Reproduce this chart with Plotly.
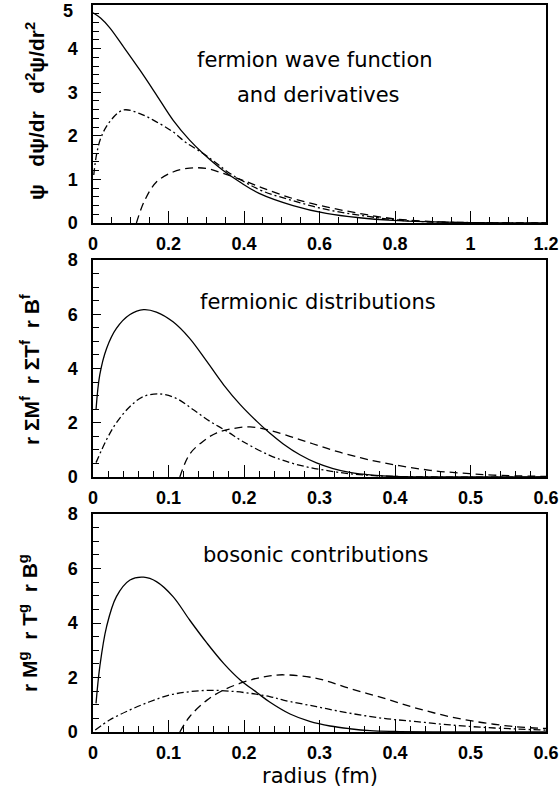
import plotly.graph_objects as go

# ---------------- data ----------------
# Panel 1: fermion wave function and derivatives (x: radius fm)
p1_psi_r = [0.0, 0.02, 0.044, 0.08, 0.124, 0.168, 0.212, 0.256, 0.291, 0.344, 0.389, 0.44, 0.53, 0.618, 0.706, 0.794, 0.88, 1.0, 1.2]
p1_psi_v = [4.82, 4.7, 4.48, 4.05, 3.51, 2.94, 2.36, 1.90, 1.60, 1.21, 0.94, 0.68, 0.40, 0.22, 0.12, 0.06, 0.03, 0.01, 0.0]

p1_d1_r = [0.002, 0.01, 0.022, 0.044, 0.08, 0.124, 0.168, 0.212, 0.247, 0.291, 0.327, 0.362, 0.406, 0.45, 0.53, 0.618, 0.706, 0.794, 0.88, 1.0, 1.2]
p1_d1_v = [1.1, 1.6, 1.98, 2.32, 2.59, 2.51, 2.32, 2.09, 1.84, 1.60, 1.37, 1.14, 0.92, 0.73, 0.51, 0.31, 0.18, 0.08, 0.03, 0.01, 0.0]

p1_d2_r = [0.115, 0.137, 0.168, 0.212, 0.256, 0.3, 0.344, 0.397, 0.45, 0.53, 0.618, 0.706, 0.794, 0.88, 0.97, 1.1, 1.2]
p1_d2_v = [0.0, 0.52, 0.94, 1.17, 1.26, 1.25, 1.14, 0.98, 0.80, 0.56, 0.37, 0.22, 0.10, 0.04, 0.01, 0.0, 0.0]

# Panel 2: fermionic distributions
p2_m_r = [0.004, 0.009, 0.018, 0.031, 0.049, 0.067, 0.084, 0.106, 0.128, 0.151, 0.173, 0.195, 0.217, 0.234, 0.252, 0.274, 0.296, 0.318, 0.34, 0.37, 0.4, 0.45, 0.6]
p2_m_v = [2.48, 3.77, 4.74, 5.48, 5.99, 6.17, 6.08, 5.72, 5.11, 4.25, 3.40, 2.67, 2.05, 1.62, 1.22, 0.82, 0.52, 0.31, 0.17, 0.07, 0.02, 0.0, 0.0]

p2_t_r = [0.004, 0.018, 0.031, 0.049, 0.067, 0.089, 0.111, 0.133, 0.155, 0.177, 0.199, 0.234, 0.261, 0.287, 0.314, 0.34, 0.38, 0.45, 0.6]
p2_t_v = [0.53, 1.38, 2.0, 2.6, 2.97, 3.06, 2.89, 2.48, 2.05, 1.69, 1.3, 0.8, 0.53, 0.35, 0.22, 0.12, 0.04, 0.0, 0.0]

p2_b_r = [0.115, 0.128, 0.146, 0.164, 0.186, 0.208, 0.234, 0.274, 0.314, 0.354, 0.384, 0.42, 0.455, 0.49, 0.53, 0.6]
p2_b_v = [0.0, 0.84, 1.32, 1.63, 1.79, 1.85, 1.72, 1.38, 1.02, 0.71, 0.53, 0.35, 0.22, 0.14, 0.07, 0.02]

# Panel 3: bosonic contributions
p3_m_r = [0.004, 0.009, 0.018, 0.031, 0.049, 0.067, 0.084, 0.106, 0.128, 0.151, 0.173, 0.195, 0.217, 0.234, 0.261, 0.287, 0.314, 0.34, 0.367, 0.4, 0.45, 0.6]
p3_m_v = [1.05, 2.4, 3.87, 4.97, 5.58, 5.68, 5.52, 4.97, 4.11, 3.26, 2.52, 1.91, 1.45, 1.1, 0.66, 0.39, 0.22, 0.12, 0.05, 0.02, 0.0, 0.0]

p3_t_r = [0.003, 0.022, 0.049, 0.075, 0.102, 0.128, 0.155, 0.181, 0.208, 0.234, 0.252, 0.296, 0.34, 0.385, 0.429, 0.473, 0.517, 0.561, 0.6]
p3_t_v = [0.07, 0.44, 0.81, 1.11, 1.36, 1.48, 1.53, 1.50, 1.42, 1.30, 1.17, 0.93, 0.69, 0.50, 0.38, 0.26, 0.17, 0.11, 0.07]

p3_b_r = [0.115, 0.128, 0.151, 0.173, 0.195, 0.217, 0.234, 0.252, 0.296, 0.34, 0.385, 0.429, 0.473, 0.517, 0.561, 0.6]
p3_b_v = [0.0, 0.56, 1.17, 1.54, 1.79, 1.97, 2.06, 2.10, 1.97, 1.6, 1.24, 0.87, 0.56, 0.34, 0.19, 0.13]

p1_yticks = [0, 1, 2, 3, 4, 5]

panel_titles = [["fermion wave function", "and derivatives"], ["fermionic distributions"], ["bosonic contributions"]]
NB = "\u00a0"
y_titles = ["ψ" + NB * 2 + " dψ/dr" + NB * 2 + " d<sup>2</sup>ψ/dr<sup>2</sup>",
            "r ΣM<sup>f</sup>  r ΣT<sup>f</sup>  r B<sup>f</sup>",
            "r M<sup>g</sup>  r T<sup>g</sup>  r B<sup>g</sup>"]
x_title = "radius (fm)"

# ---------------- figure ----------------
W, H = 560, 800
SOLID = "solid"
DASH = "8px,5px"
DASHDOT = "7px,3px,2px,3px"

fig = go.Figure()

def add(xs, ys, dash, ax):
    fig.add_trace(go.Scatter(x=xs, y=ys, mode="lines", line_shape="spline",
                             line=dict(color="black", width=1.3, dash=dash),
                             xaxis="x" + ax, yaxis="y" + ax, showlegend=False,
                             hoverinfo="skip"))

add(p1_psi_r, p1_psi_v, SOLID, "")
add(p1_d1_r, p1_d1_v, DASHDOT, "")
add(p1_d2_r, p1_d2_v, DASH, "")
add(p2_m_r, p2_m_v, SOLID, "2")
add(p2_t_r, p2_t_v, DASHDOT, "2")
add(p2_b_r, p2_b_v, DASH, "2")
add(p3_m_r, p3_m_v, SOLID, "3")
add(p3_t_r, p3_t_v, DASHDOT, "3")
add(p3_b_r, p3_b_v, DASH, "3")

xl, xr = 93 / W, 546 / W
tickfont = dict(family="Liberation Sans", size=18, color="black", weight="bold")

def xaxis(rng, dtick, mdtick, anchor):
    return dict(domain=[xl, xr], range=rng, anchor=anchor, dtick=dtick, tick0=0,
                automargin=False, ticklabeloverflow="allow",
                ticks="inside", ticklen=12, tickwidth=1, tickcolor="black",
                minor=dict(dtick=mdtick, tick0=0, ticks="inside", ticklen=6, tickcolor="black", tickwidth=1),
                showline=True, linecolor="black", linewidth=1.5, mirror=True,
                showgrid=False, zeroline=False, tickfont=tickfont,
                ticklabelstandoff=4)

def yaxis(dom_px, rng, dtick, mdtick, anchor, labels=None):
    top, bot = dom_px
    d = dict(domain=[1 - bot / H, 1 - top / H], range=rng, anchor=anchor, dtick=dtick, tick0=0,
             automargin=False, ticklabeloverflow="allow",
             ticks="inside", ticklen=8, tickwidth=1, tickcolor="black",
             minor=dict(dtick=mdtick, tick0=0, ticks="inside", ticklen=6, tickcolor="black", tickwidth=1),
             showline=True, linecolor="black", linewidth=1.5, mirror=True,
             showgrid=False, zeroline=False, tickfont=tickfont,
             ticklabelstandoff=10)
    if labels is not None:
        d.update(tickmode="array", tickvals=labels[0], ticktext=labels[1])
    return d

P1 = (5, 223)
P2 = (260, 477)
P3 = (514, 732)

# top "5" label is drawn separately so that it stays inside the page
p1_labels = (p1_yticks, [str(v) for v in p1_yticks[:-1]] + [""])

fig.update_layout(
    width=W, height=H, margin=dict(l=0, r=0, t=0, b=0),
    paper_bgcolor="white", plot_bgcolor="white",
    xaxis=xaxis([0, 1.2], 0.2, 0.05, "y"),
    yaxis=yaxis(P1, [0, 5], 1, 0.2, "x", p1_labels),
    xaxis2=xaxis([0, 0.6], 0.1, 0.02, "y2"),
    yaxis2=yaxis(P2, [0, 8], 2, 0.5, "x2"),
    xaxis3=xaxis([0, 0.6], 0.1, 0.02, "y3"),
    yaxis3=yaxis(P3, [0, 8], 2, 0.5, "x3"),
)

fig.add_annotation(xref="paper", yref="y", x=75 / W, y=p1_yticks[-1], text=str(p1_yticks[-1]),
                   showarrow=False, xanchor="right", yanchor="top", yshift=6, font=tickfont)

ann_font = dict(family="DejaVu Sans", size=21, color="black")
ylab_font = dict(family="Liberation Sans", size=21, color="black", weight="bold")

annots = [
    (panel_titles[0][0], 315, 60),
    (panel_titles[0][1], 318, 95),
    (panel_titles[1][0], 318, 302),
    (panel_titles[2][0], 316, 555),
    (x_title, 320, 776),
]
for txt, xc, yc in annots:
    fig.add_annotation(xref="paper", yref="paper", showarrow=False, font=ann_font,
                       text=txt, x=xc / W, y=1 - yc / H,
                       xanchor="center", yanchor="middle")

for txt, xc, yc in [(y_titles[0], 35, 111), (y_titles[1], 30, 370), (y_titles[2], 28, 623)]:
    fig.add_annotation(xref="paper", yref="paper", showarrow=False, font=ylab_font,
                       text=txt, textangle=-90, x=xc / W, y=1 - yc / H,
                       xanchor="center", yanchor="middle")

fig.write_html("out.html", config={"displayModeBar": False},
               post_script="document.body.style.margin='0';document.body.style.overflow='hidden';")
